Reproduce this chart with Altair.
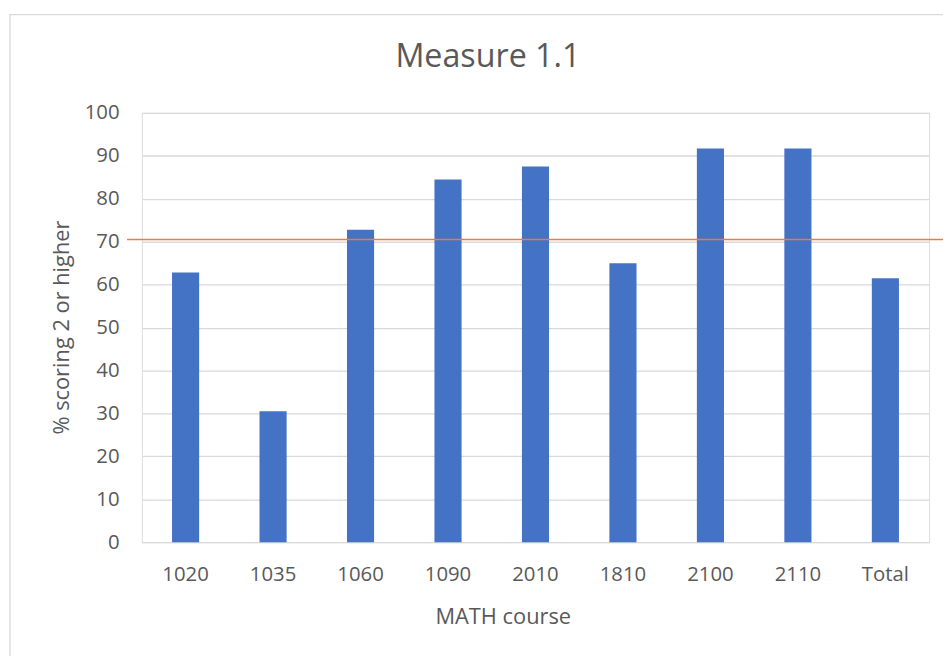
import altair as alt
import pandas as pd

courses = ["1020", "1035", "1060", "1090", "2010", "1810", "2100", "2110", "Total"]
pct = [62.8, 30.5, 72.8, 84.5, 87.5, 65.0, 91.7, 91.7, 61.5]
target = [70.5]
chart_title = ["Measure 1.1"]

FONT = "Open Sans"
TXT = "#595959"

bars_df = pd.DataFrame({"course": courses, "value": pct})
rule_df = pd.DataFrame({"value": target})
frame_df = pd.DataFrame({"k": [0]})
title_df = pd.DataFrame({"t": chart_title})

bars = alt.Chart(bars_df).mark_bar(color="#4472C4").encode(
    x=alt.X(
        "course:N",
        sort=courses,
        scale=alt.Scale(paddingInner=0.69, paddingOuter=0.345),
        axis=alt.Axis(
            title="MATH course",
            labelAngle=0,
            labelFont=FONT,
            labelFontSize=20.5,
            labelColor=TXT,
            labelPadding=23,
            ticks=False,
            domain=False,
            titleFont=FONT,
            titleFontSize=22,
            titleFontWeight="normal",
            titleColor=TXT,
            titleX=364,
            titleY=75,
            titleBaseline="middle",
            titleAlign="center",
        ),
    ),
    y=alt.Y(
        "value:Q",
        scale=alt.Scale(domain=[0, 100], nice=False),
        axis=alt.Axis(
            title="% scoring 2 or higher",
            values=list(range(0, 101, 10)),
            labelFont=FONT,
            labelFontSize=20.5,
            labelColor=TXT,
            labelPadding=23,
            ticks=False,
            domain=False,
            grid=True,
            gridColor="#d9d9d9",
            gridWidth=1.3,
            titleFont=FONT,
            titleFontSize=22,
            titleFontWeight="normal",
            titleColor=TXT,
            titleAngle=-90,
            titleX=-81,
            titleY=216,
            titleBaseline="middle",
            titleAlign="center",
        ),
    ),
)

rule = alt.Chart(rule_df).mark_rule(color="#ED7D31", strokeWidth=1.6).encode(
    y="value:Q",
    x=alt.value(-15),
    x2=alt.value(830),
)

frame = alt.Chart(frame_df).mark_rect(
    fill=None, fillOpacity=0, stroke="#d9d9d9", strokeWidth=1.3
).encode(
    x=alt.value(-133),
    x2=alt.value(900),
    y=alt.value(-99),
    y2=alt.value(700),
)

title = alt.Chart(title_df).mark_text(
    font=FONT, fontSize=32.5, color=TXT, align="center", baseline="middle"
).encode(
    text="t:N",
    x=alt.value(349),
    y=alt.value(-56),
)

chart = (
    alt.layer(bars, rule, frame, title)
    .properties(
        width=794,
        height=433,
        padding={"left": 135, "top": 103, "right": 14, "bottom": 112},
        autosize=alt.AutoSizeParams(type="none"),
    )
    .configure_view(stroke=None)
    .configure(background="white")
)

chart.save("out.html", embed_options={"renderer": "svg", "actions": False})
